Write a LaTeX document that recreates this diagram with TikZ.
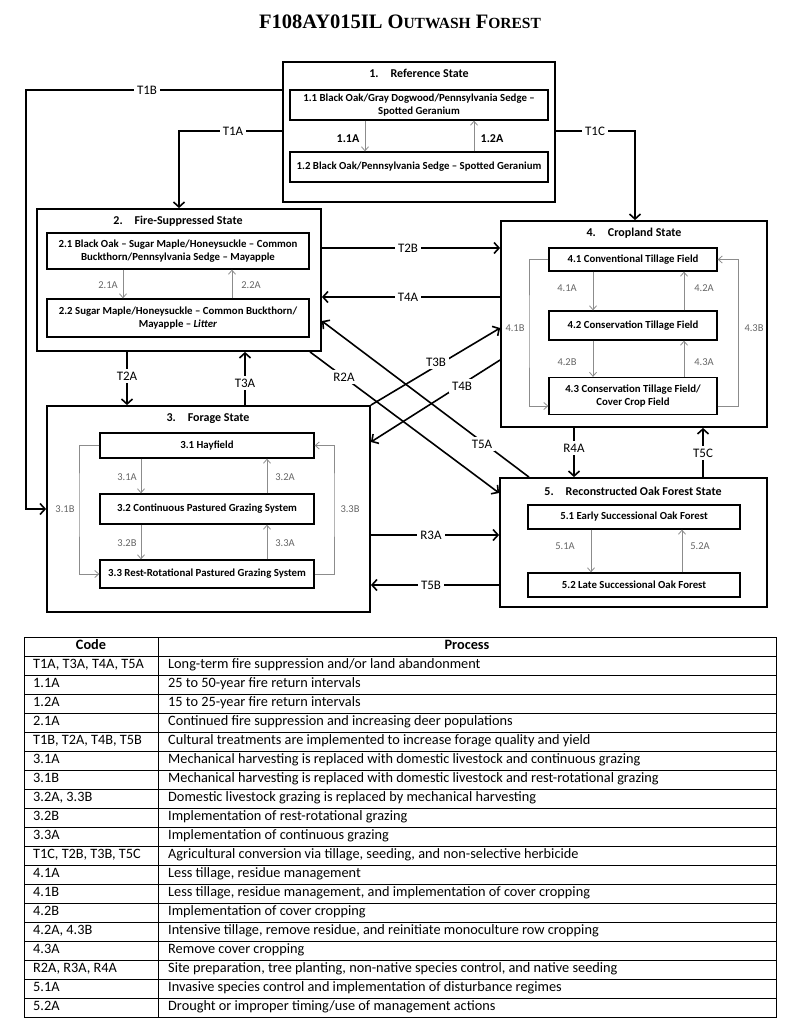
\documentclass[tikz,border=0pt]{standalone}
\usepackage{fontspec}
\setmainfont{Carlito}
\newfontfamily\titlefont{Liberation Serif}
\usetikzlibrary{arrows.meta,calc}
\begin{document}
\begin{tikzpicture}[x=1pt,y=-1pt,
  statebox/.style={draw,line width=1.8pt,inner sep=0pt},
  commbox/.style={draw,line width=1.3pt,inner sep=0pt,align=center,font=\fontsize{10.8}{12.5}\selectfont\bfseries},
  sttitle/.style={font=\fontsize{12}{13}\selectfont\bfseries,inner sep=0pt},
  trans/.style={line width=1.6pt,-{Straight Barb[length=5pt,width=11pt]}},
  innerarr/.style={draw=black!45,line width=0.8pt,-{Straight Barb[length=4pt,width=7pt]}},
  tlab/.style={fill=white,inner sep=3pt,font=\fontsize{13}{13}\selectfont},
  glab/.style={text=black!60,font=\fontsize{10.5}{12}\selectfont,inner sep=1pt},
  blab/.style={font=\fontsize{12}{12}\selectfont\bfseries,inner sep=1pt},
  cell/.style={font=\fontsize{14.3}{14.3}\selectfont,anchor=west,inner sep=0pt,text height=9.8pt,text depth=3.2pt},
  hcell/.style={font=\fontsize{14.3}{14.3}\selectfont\bfseries,inner sep=0pt,text height=9.8pt,text depth=3.2pt},
  grid/.style={line width=0.9pt}
]
\fill[white] (0,0) rectangle (800,1032);
\useasboundingbox (0,0) rectangle (800,1032);

% title
\node (title) at (400,22) {\titlefont\bfseries\fontsize{20.5}{20.5}\selectfont F108AY015IL O{\fontsize{15.5}{15.5}\selectfont UTWASH} F{\fontsize{15.5}{15.5}\selectfont OREST}};

% state boxes
\node[statebox,minimum width=272pt,minimum height=140pt] (s1) at (419,132) {};
\node[statebox,minimum width=284pt,minimum height=142pt] (s2) at (179,280) {};
\node[statebox,minimum width=323pt,minimum height=206pt] (s3) at (208.5,509) {};
\node[statebox,minimum width=266pt,minimum height=206pt] (s4) at (634,324) {};
\node[statebox,minimum width=267pt,minimum height=129pt] (s5) at (633.5,542.5) {};

% state titles
\node[sttitle] (t1) at (419,73) {1.\hspace{12pt}Reference State};
\node[sttitle] (t2) at (178,221) {2.\hspace{12pt}Fire-Suppressed State};
\node[sttitle] (t4) at (634,233) {4.\hspace{12pt}Cropland State};
\node[sttitle] (t3) at (208,419) {3.\hspace{12pt}Forage State};
\node[sttitle] (t5) at (633,491) {5.\hspace{12pt}Reconstructed Oak Forest State};

% community boxes
\node[commbox,minimum width=258pt,minimum height=30pt] (c11) at (419,105) {1.1 Black Oak/Gray Dogwood/Pennsylvania Sedge –\\Spotted Geranium};
\node[commbox,minimum width=258pt,minimum height=30pt] (c12) at (419,167) {1.2 Black Oak/Pennsylvania Sedge – Spotted Geranium};
\node[commbox,minimum width=262pt,minimum height=36pt] (c21) at (178,251) {2.1 Black Oak – Sugar Maple/Honeysuckle – Common\\Buckthorn/Pennsylvania Sedge – Mayapple};
\node[commbox,minimum width=262pt,minimum height=38pt] (c22) at (178,318) {2.2 Sugar Maple/Honeysuckle – Common Buckthorn/\\Mayapple – \textit{Litter}};
\node[commbox,minimum width=168pt,minimum height=23pt] (c41) at (633,259.5) {4.1 Conventional Tillage Field};
\node[commbox,minimum width=168pt,minimum height=29pt] (c42) at (633,325.5) {4.2 Conservation Tillage Field};
\node[commbox,minimum width=168pt,minimum height=37pt] (c43) at (633,396) {4.3 Conservation Tillage Field/\\Cover Crop Field};
\node[commbox,minimum width=214pt,minimum height=25pt] (c31) at (207,445.5) {3.1 Hayfield};
\node[commbox,minimum width=214pt,minimum height=30pt] (c32) at (207,509) {3.2 Continuous Pastured Grazing System};
\node[commbox,minimum width=214pt,minimum height=28pt] (c33) at (207,574) {3.3 Rest-Rotational Pastured Grazing System};
\node[commbox,minimum width=212pt,minimum height=24pt] (c51) at (634,517) {5.1 Early Successional Oak Forest};
\node[commbox,minimum width=212pt,minimum height=24pt] (c52) at (634,585) {5.2 Late Successional Oak Forest};

% inner (community) transitions
\draw[innerarr] (c11.south -| 365,0) -- (c12.north -| 365,0);
\draw[innerarr] (c12.north -| 474,0) -- (c11.south -| 474,0);
\draw[innerarr] (c21.south -| 123,0) -- (c22.north -| 123,0);
\draw[innerarr] (c22.north -| 232,0) -- (c21.south -| 232,0);
\draw[innerarr] (c41.south -| 593,0) -- (c42.north -| 593,0);
\draw[innerarr] (c42.north -| 684,0) -- (c41.south -| 684,0);
\draw[innerarr] (c42.south -| 593,0) -- (c43.north -| 593,0);
\draw[innerarr] (c43.north -| 684,0) -- (c42.south -| 684,0);
\draw[innerarr] (c41.west) -| (529,330) |- (c43.west |- 0,406);
\draw[innerarr] (c43.east |- 0,406) -| (738,330) |- (c41.east);
\draw[innerarr] (c31.south -| 141,0) -- (c32.north -| 141,0);
\draw[innerarr] (c32.north -| 267,0) -- (c31.south -| 267,0);
\draw[innerarr] (c32.south -| 141,0) -- (c33.north -| 141,0);
\draw[innerarr] (c33.north -| 267,0) -- (c32.south -| 267,0);
\draw[innerarr] (c31.west) -| (79,500) |- (c33.west);
\draw[innerarr] (c33.east) -| (334,500) |- (c31.east);
\draw[innerarr] (c51.south -| 591,0) -- (c52.north -| 591,0);
\draw[innerarr] (c52.north -| 682,0) -- (c51.south -| 682,0);

% inner labels
\node[blab] (l11a) at (348,139) {1.1A};
\node[blab] (l12a) at (492,139) {1.2A};
\node[glab] (l21a) at (108,285) {2.1A};
\node[glab] (l22a) at (251,285) {2.2A};
\node[glab] (l41a) at (567,288) {4.1A};
\node[glab] (l42a) at (704,288) {4.2A};
\node[glab] (l42b) at (567,362) {4.2B};
\node[glab] (l43a) at (704,362) {4.3A};
\node[glab] (l41b) at (515,328) {4.1B};
\node[glab] (l43b) at (754,328) {4.3B};
\node[glab] (l31a) at (127,477) {3.1A};
\node[glab] (l32a) at (285,477) {3.2A};
\node[glab] (l32b) at (127,543) {3.2B};
\node[glab] (l33a) at (285,543) {3.3A};
\node[glab] (l31b) at (65,509) {3.1B};
\node[glab] (l33b) at (350,509) {3.3B};
\node[glab] (l51a) at (565,546) {5.1A};
\node[glab] (l52a) at (700,546) {5.2A};

% state transitions
\draw[trans] (s1.west |- 0,90) -- (26,90) -- (26,509) -- (s3.west |- 0,509);
\draw[trans] (s1.west |- 0,131) -| (s2.north -| 179,0);
\draw[trans] (s1.east |- 0,131) -| (s4.north -| 635,0);
\draw[trans] (s2.east |- 0,248) -- (s4.west |- 0,248);
\draw[trans] (s4.west |- 0,297) -- (s2.east |- 0,297);
\draw[trans] (s2.south -| 127,0) -- (s3.north -| 127,0);
\draw[trans] (s3.north -| 245,0) -- (s2.south -| 245,0);
\draw[trans] (s2.south -| 310,0) -- (s5.west |- 0,493);
\draw[trans] (s5.north -| 529,0) -- (s2.east |- 0,321);
\draw[trans] (s3.north east) -- (s4.west |- 0,328);
\draw[trans] (s4.west |- 0,360) -- (s3.east |- 0,442);
\draw[trans] (s3.east |- 0,535) -- (s5.west |- 0,535);
\draw[trans] (s5.west |- 0,585) -- (s3.east |- 0,585);
\draw[trans] (s4.south -| 574,0) -- (s5.north -| 574,0);
\draw[trans] (s5.north -| 703,0) -- (s4.south -| 703,0);

% transition labels
\node[tlab] (lt1b) at (147,90) {T1B};
\node[tlab] (lt1a) at (233,131) {T1A};
\node[tlab] (lt1c) at (595,131) {T1C};
\node[tlab] (lt2b) at (408,248) {T2B};
\node[tlab] (lt4a) at (408,297) {T4A};
\node[tlab] (lt2a) at (127,376) {T2A};
\node[tlab] (lt3a) at (245,383) {T3A};
\node[tlab] (lr2a) at (344,377) {R2A};
\node[tlab] (lt3b) at (436,362) {T3B};
\node[tlab] (lt4b) at (462,386) {T4B};
\node[tlab] (lt5a) at (482,444) {T5A};
\node[tlab] (lr4a) at (574,448) {R4A};
\node[tlab] (lt5c) at (703,453) {T5C};
\node[tlab] (lr3a) at (431,535) {R3A};
\node[tlab] (lt5b) at (431,585) {T5B};

% table
\draw[grid] (24,637) rectangle (776,1017);
\draw[grid] (158,637) -- (158,1017);
\foreach \k in {1,...,19} { \draw[grid] (24,637+19*\k) -- (776,637+19*\k); }
\node[hcell] (hcode) at (91,646.5) {Code};
\node[hcell] (hproc) at (467,646.5) {Process};
\node[cell] (a1) at (33,665.5) {T1A, T3A, T4A, T5A};
\node[cell] (b1) at (168,665.5) {Long-term fire suppression and/or land abandonment};
\node[cell] (a2) at (33,684.5) {1.1A};
\node[cell] (b2) at (168,684.5) {25 to 50-year fire return intervals};
\node[cell] (a3) at (33,703.5) {1.2A};
\node[cell] (b3) at (168,703.5) {15 to 25-year fire return intervals};
\node[cell] (a4) at (33,722.5) {2.1A};
\node[cell] (b4) at (168,722.5) {Continued fire suppression and increasing deer populations};
\node[cell] (a5) at (33,741.5) {T1B, T2A, T4B, T5B};
\node[cell] (b5) at (168,741.5) {Cultural treatments are implemented to increase forage quality and yield};
\node[cell] (a6) at (33,760.5) {3.1A};
\node[cell] (b6) at (168,760.5) {Mechanical harvesting is replaced with domestic livestock and continuous grazing};
\node[cell] (a7) at (33,779.5) {3.1B};
\node[cell] (b7) at (168,779.5) {Mechanical harvesting is replaced with domestic livestock and rest-rotational grazing};
\node[cell] (a8) at (33,798.5) {3.2A, 3.3B};
\node[cell] (b8) at (168,798.5) {Domestic livestock grazing is replaced by mechanical harvesting};
\node[cell] (a9) at (33,817.5) {3.2B};
\node[cell] (b9) at (168,817.5) {Implementation of rest-rotational grazing};
\node[cell] (a10) at (33,836.5) {3.3A};
\node[cell] (b10) at (168,836.5) {Implementation of continuous grazing};
\node[cell] (a11) at (33,855.5) {T1C, T2B, T3B, T5C};
\node[cell] (b11) at (168,855.5) {Agricultural conversion via tillage, seeding, and non-selective herbicide};
\node[cell] (a12) at (33,874.5) {4.1A};
\node[cell] (b12) at (168,874.5) {Less tillage, residue management};
\node[cell] (a13) at (33,893.5) {4.1B};
\node[cell] (b13) at (168,893.5) {Less tillage, residue management, and implementation of cover cropping};
\node[cell] (a14) at (33,912.5) {4.2B};
\node[cell] (b14) at (168,912.5) {Implementation of cover cropping};
\node[cell] (a15) at (33,931.5) {4.2A, 4.3B};
\node[cell] (b15) at (168,931.5) {Intensive tillage, remove residue, and reinitiate monoculture row cropping};
\node[cell] (a16) at (33,950.5) {4.3A};
\node[cell] (b16) at (168,950.5) {Remove cover cropping};
\node[cell] (a17) at (33,969.5) {R2A, R3A, R4A};
\node[cell] (b17) at (168,969.5) {Site preparation, tree planting, non-native species control, and native seeding};
\node[cell] (a18) at (33,988.5) {5.1A};
\node[cell] (b18) at (168,988.5) {Invasive species control and implementation of disturbance regimes};
\node[cell] (a19) at (33,1007.5) {5.2A};
\node[cell] (b19) at (168,1007.5) {Drought or improper timing/use of management actions};
\end{tikzpicture}
\end{document}
